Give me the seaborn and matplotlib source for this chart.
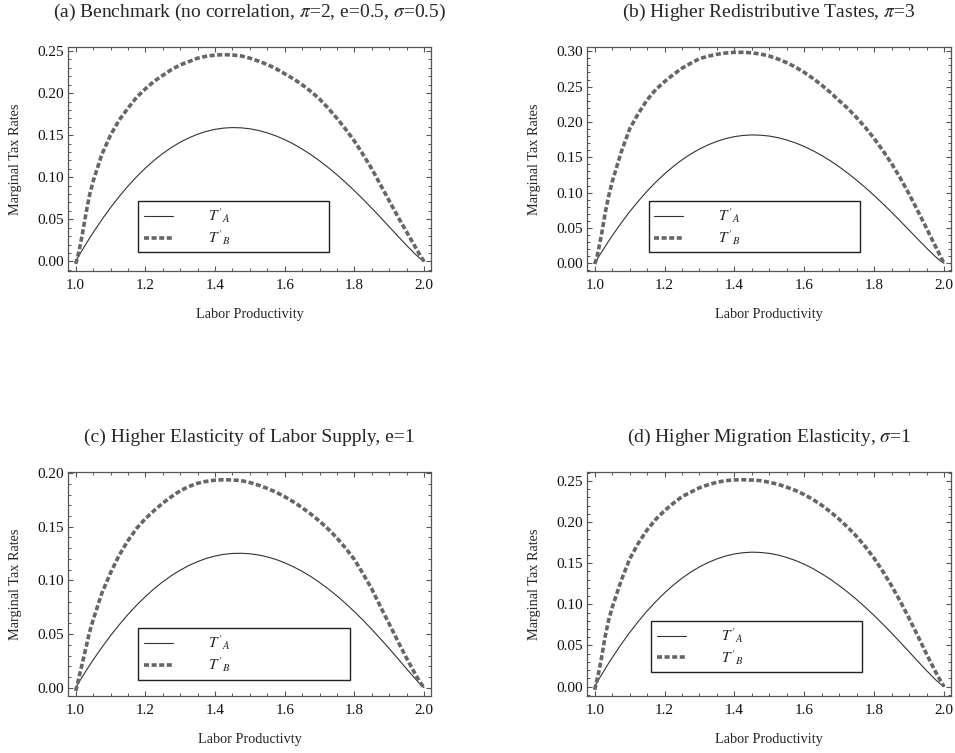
import numpy as np
import pandas as pd
import matplotlib
matplotlib.use("Agg")
import matplotlib.pyplot as plt
import seaborn as sns
from matplotlib.ticker import MultipleLocator, FormatStrFormatter

# ---------------- data ----------------
productivity = [1.0, 1.005, 1.01, 1.02, 1.03, 1.04, 1.05, 1.075, 1.1, 1.125, 1.15, 1.175, 1.2,
                1.225, 1.25, 1.275, 1.3, 1.325, 1.35, 1.375, 1.4, 1.425, 1.45, 1.475, 1.5,
                1.525, 1.55, 1.575, 1.6, 1.625, 1.65, 1.675, 1.7, 1.725, 1.75, 1.775, 1.8,
                1.825, 1.85, 1.875, 1.9, 1.925, 1.95, 1.975, 1.99, 2.0]

a_TA = [0.0, 0.0036, 0.0072, 0.0141, 0.0209, 0.0276, 0.0340, 0.0495, 0.0638, 0.0771, 0.0894, 0.1006,
        0.1108, 0.1200, 0.1282, 0.1354, 0.1416, 0.1468, 0.1511, 0.1545, 0.1569, 0.1584, 0.1590,
        0.1587, 0.1576, 0.1556, 0.1527, 0.1491, 0.1447, 0.1395, 0.1335, 0.1269, 0.1195, 0.1115,
        0.1029, 0.0937, 0.0840, 0.0738, 0.0632, 0.0523, 0.0411, 0.0299, 0.0189, 0.0084, 0.0029, 0.0]
a_TB = [-0.003, 0.004, 0.013, 0.034, 0.058, 0.079, 0.095, 0.127, 0.150, 0.168, 0.182, 0.195,
        0.205, 0.214, 0.221, 0.228, 0.2335, 0.2375, 0.2415, 0.2438, 0.2452, 0.2457, 0.2453,
        0.2442, 0.2415, 0.238, 0.234, 0.229, 0.223, 0.217, 0.210, 0.202, 0.193, 0.182,
        0.170, 0.157, 0.143, 0.127, 0.110, 0.091, 0.072, 0.053, 0.035, 0.017, 0.006, 0.0]

b_TA = [0.0, 0.0041, 0.0082, 0.0161, 0.0239, 0.0315, 0.0388, 0.0565, 0.0729, 0.0880, 0.1021, 0.1149,
        0.1265, 0.1370, 0.1464, 0.1546, 0.1617, 0.1676, 0.1726, 0.1764, 0.1792, 0.1809, 0.1816,
        0.1812, 0.1800, 0.1777, 0.1744, 0.1703, 0.1652, 0.1593, 0.1525, 0.1449, 0.1365, 0.1273,
        0.1175, 0.1070, 0.0959, 0.0843, 0.0722, 0.0597, 0.0469, 0.0341, 0.0216, 0.0096, 0.0033, 0.0]
b_TB = [-0.001, 0.006, 0.017, 0.042, 0.071, 0.095, 0.115, 0.156, 0.190, 0.212, 0.231, 0.246,
        0.257, 0.267, 0.276, 0.283, 0.2895, 0.2930, 0.2957, 0.2975, 0.2984, 0.2985, 0.2977,
        0.2960, 0.2932, 0.2890, 0.2838, 0.2775, 0.2700, 0.2615, 0.2520, 0.2415, 0.2300, 0.2190,
        0.2060, 0.1920, 0.1765, 0.1595, 0.1410, 0.1205, 0.0980, 0.0740, 0.0495, 0.0245, 0.0097, 0.0]

c_TA = [0.0, 0.0027, 0.0054, 0.0107, 0.0158, 0.0209, 0.0258, 0.0375, 0.0485, 0.0587, 0.0682, 0.0769,
        0.0849, 0.0922, 0.0987, 0.1045, 0.1095, 0.1139, 0.1175, 0.1205, 0.1227, 0.1243, 0.1251,
        0.1253, 0.1248, 0.1237, 0.1219, 0.1195, 0.1164, 0.1127, 0.1085, 0.1036, 0.0981, 0.0921,
        0.0856, 0.0785, 0.0709, 0.0629, 0.0544, 0.0456, 0.0365, 0.0271, 0.0176, 0.0083, 0.0030, 0.0]
c_TB = [-0.003, 0.003, 0.0105, 0.024, 0.038, 0.052, 0.063, 0.088, 0.107, 0.1235, 0.137, 0.1485,
        0.1575, 0.165, 0.172, 0.178, 0.1835, 0.1875, 0.1905, 0.1923, 0.1934, 0.1938, 0.1936,
        0.1930, 0.1912, 0.1887, 0.1857, 0.1822, 0.1780, 0.1732, 0.1678, 0.1618, 0.1552, 0.1478,
        0.1395, 0.1300, 0.1195, 0.1062, 0.0920, 0.0755, 0.0595, 0.0432, 0.0275, 0.0125, 0.0045, 0.0]

d_TA = [0.0, 0.0037, 0.0074, 0.0145, 0.0215, 0.0284, 0.0350, 0.0509, 0.0656, 0.0793, 0.0919, 0.1034,
        0.1139, 0.1234, 0.1318, 0.1392, 0.1456, 0.1509, 0.1553, 0.1588, 0.1613, 0.1628, 0.1635,
        0.1631, 0.1620, 0.1600, 0.1570, 0.1533, 0.1488, 0.1434, 0.1372, 0.1305, 0.1228, 0.1146,
        0.1058, 0.0963, 0.0864, 0.0759, 0.0650, 0.0538, 0.0423, 0.0307, 0.0194, 0.0086, 0.0030, 0.0]
d_TB = [-0.004, 0.005, 0.014, 0.036, 0.061, 0.081, 0.096, 0.128, 0.155, 0.1745, 0.1905, 0.2035,
        0.2140, 0.2229, 0.231, 0.2365, 0.2418, 0.2455, 0.2485, 0.2505, 0.2514, 0.2516, 0.2512,
        0.2505, 0.2485, 0.2460, 0.2425, 0.2385, 0.2335, 0.2275, 0.2205, 0.2125, 0.2035, 0.1935,
        0.1825, 0.1700, 0.1560, 0.1400, 0.1225, 0.1035, 0.0830, 0.0615, 0.0395, 0.0185, 0.0070, 0.0]

titles = [r"(a) Benchmark (no correlation, $\pi$=2, e=0.5, $\sigma$=0.5)",
          r"(b) Higher Redistributive Tastes, $\pi$=3",
          r"(c) Higher Elasticity of Labor Supply, e=1",
          r"(d) Higher Migration Elasticity, $\sigma$=1"]
xlabels = ["Labor Productivity", "Labor Productivity", "Labor Productivty", "Labor Productivity"]
ylabel = "Marginal Tax Rates"
series_labels = [r"$T'{}_A$", r"$T'{}_B$"]

# ---------------- style ----------------
sns.set_style("ticks")
plt.rcParams.update({
    "font.family": ["Liberation Serif", "DejaVu Serif"],
    "mathtext.fontset": "stix",
    "axes.edgecolor": "#555555",
    "axes.linewidth": 0.9,
    "xtick.color": "#555555",
    "ytick.color": "#555555",
    "xtick.labelcolor": "#111111",
    "ytick.labelcolor": "#111111",
})

fig = plt.figure(figsize=(9.55, 7.53), dpi=100)
W, H = 955.0, 753.0
# axes boxes in pixels: left, top, right, bottom
boxes = [(68, 47, 431, 271), (587, 47, 951, 271), (68, 472, 431, 696), (587, 472, 951, 696)]
ylims = [(-0.0115, 0.2548), (-0.0109, 0.306), (-0.0077, 0.201), (-0.0115, 0.261)]
legend_boxes = [(0.194, 0.103, 0.718, 0.311), (0.170, 0.088, 0.751, 0.311),
                (0.194, 0.081, 0.776, 0.302), (0.177, 0.085, 0.755, 0.335)]
data = [(a_TA, a_TB), (b_TA, b_TB), (c_TA, c_TB), (d_TA, d_TB)]

for i in range(4):
    l, t, r, b = boxes[i]
    ax = fig.add_axes([l / W, 1 - b / H, (r - l) / W, (b - t) / H])
    TA, TB = data[i]
    dfA = pd.DataFrame({"x": productivity, "y": TA})
    dfB = pd.DataFrame({"x": productivity, "y": TB})
    sns.lineplot(data=dfA, x="x", y="y", ax=ax, color="#333333", linewidth=0.8,
                 estimator=None, sort=False, label=series_labels[0])
    sns.lineplot(data=dfB, x="x", y="y", ax=ax, color="#666666", linewidth=2.6,
                 linestyle=(0, (1.4, 0.7)), estimator=None, sort=False, label=series_labels[1])
    ax.set_xlim(0.978, 2.02)
    ax.set_ylim(*ylims[i])
    ax.xaxis.set_major_locator(MultipleLocator(0.2))
    ax.xaxis.set_minor_locator(MultipleLocator(0.05))
    ax.yaxis.set_major_locator(MultipleLocator(0.05))
    ax.yaxis.set_minor_locator(MultipleLocator(0.01))
    ax.xaxis.set_major_formatter(FormatStrFormatter("%.1f"))
    ax.yaxis.set_major_formatter(FormatStrFormatter("%.2f"))
    ax.tick_params(which="both", direction="in", top=True, right=True)
    ax.tick_params(which="major", length=3.8, width=0.8, labelsize=11)
    ax.tick_params(which="minor", length=2.2, width=0.7)
    ax.tick_params(axis="x", which="major", pad=6)
    ax.tick_params(axis="y", which="major", pad=3)
    for s in ax.spines.values():
        s.set_visible(True)
    ax.set_xlabel(xlabels[i], fontsize=10.3, labelpad=11)
    ax.set_ylabel(ylabel, fontsize=10.3, labelpad=11)
    ax.set_title(titles[i], fontsize=14, pad=22)
    x0, y0, x1, y1 = legend_boxes[i]
    leg = ax.legend(loc="upper left", bbox_to_anchor=(x0, y0, x1 - x0, y1 - y0), mode="expand",
                    fontsize=11, handlelength=1.9, handletextpad=2.3, borderpad=0.35,
                    labelspacing=0.2, frameon=True, fancybox=False, framealpha=1,
                    edgecolor="#222222", borderaxespad=0)
    leg.get_frame().set_linewidth(1.0)

fig.savefig("out.png", dpi=100)
